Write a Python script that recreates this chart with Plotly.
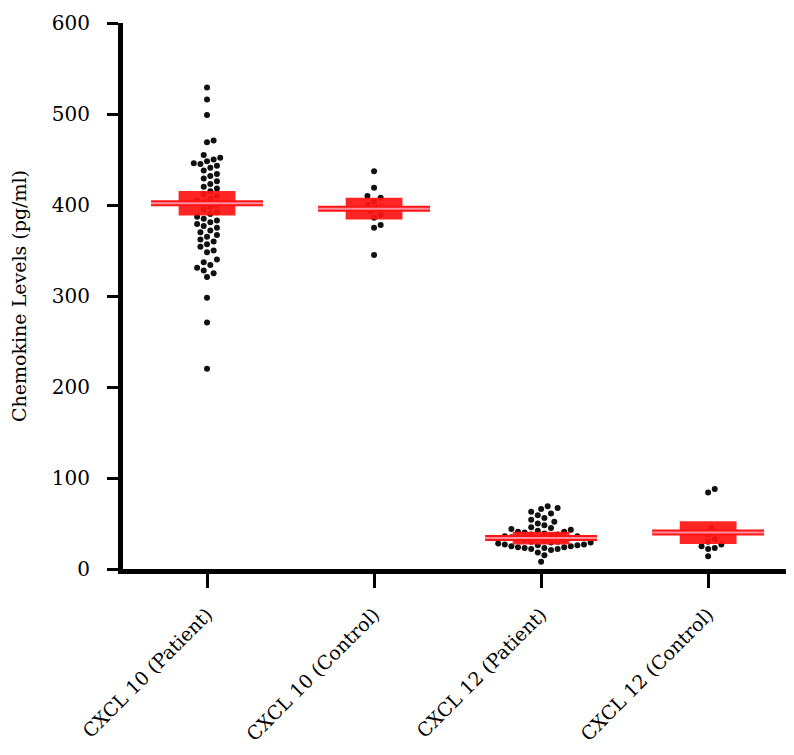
import plotly.graph_objects as go

# groups shown on the x axis
categories = ["CXCL 10 (Patient)", "CXCL 10 (Control)", "CXCL 12 (Patient)", "CXCL 12 (Control)"]

# individual chemokine levels (pg/ml)
cxcl10_patient = [529, 516, 499, 471, 469, 455, 452, 450, 448, 446, 445, 443, 441, 438, 434,
                  432, 429, 426, 423, 420, 418, 415, 412, 410, 407, 405, 403, 400, 398, 395,
                  392, 390, 387, 385, 383, 381, 379, 377, 375, 372, 370, 367, 365, 362, 360,
                  357, 354, 350, 348, 340, 337, 334, 331, 328, 325, 321, 298, 271, 220]
cxcl10_control = [437, 419, 410, 408, 404, 400, 397, 393, 389, 386, 378, 375, 345]
cxcl12_patient = [69, 67, 66, 63, 61, 59, 56, 54, 52, 50, 48, 46,
                  45, 44, 43, 42, 41, 41, 40, 39, 38, 38, 37, 36, 36, 35, 34, 34, 33, 32,
                  32, 31, 30, 30, 29, 29, 28, 27, 27, 26, 26, 25, 25, 24, 24, 23, 23,
                  22, 22, 21, 18, 15, 8]
cxcl12_control = [88, 84, 45, 38, 33, 30, 27, 25, 23, 22, 14]

# mean and SEM drawn in red
means = [402, 396, 34, 40]
sems = [13.5, 12, 7, 12.5]

groups = [cxcl10_patient, cxcl10_control, cxcl12_patient, cxcl12_control]

PX_PER_CAT = 167.0
PX_PER_UNIT = 546.0 / 600.0
DOT = 6.6


def swarm(values):
    # simple beeswarm: push each dot sideways until it does not overlap
    placed = []
    offs = [0.0] * len(values)
    order = sorted(range(len(values)), key=lambda i: values[i])
    step = DOT / 2.0
    for i in order:
        y = values[i] * PX_PER_UNIT
        k = 0
        while True:
            cands = [0.0] if k == 0 else [k * step, -k * step]
            ok = None
            for c in cands:
                if all((c - px) ** 2 + (y - py) ** 2 >= DOT ** 2 for px, py in placed):
                    ok = c
                    break
            if ok is not None:
                placed.append((ok, y))
                offs[i] = ok
                break
            k += 1
    return [o / PX_PER_CAT for o in offs]


fig = go.Figure()

for gi, vals in enumerate(groups):
    offs = swarm(vals)
    fig.add_trace(go.Scatter(
        x=[gi + o for o in offs], y=vals, mode="markers",
        marker=dict(color="#111111", size=6),
        showlegend=False, hoverinfo="y"))

shapes = []
for gi in range(len(categories)):
    m, s = means[gi], sems[gi]
    shapes.append(dict(type="rect", xref="x", yref="y", x0=gi - 0.17, x1=gi + 0.17,
                       y0=m - s, y1=m + s, fillcolor="#ff1414", line=dict(width=0),
                       opacity=0.93, layer="above"))
    shapes.append(dict(type="line", xref="x", yref="y", x0=gi - 0.335, x1=gi + 0.335,
                       y0=m, y1=m, line=dict(color="#ff1414", width=6), layer="above"))
    shapes.append(dict(type="line", xref="x", yref="y", x0=gi - 0.335, x1=gi + 0.335,
                       y0=m, y1=m, line=dict(color="#ff8da0", width=2), layer="above"))

fig.update_layout(
    width=794, height=755,
    margin=dict(l=115, r=7, t=15, b=194),
    plot_bgcolor="white", paper_bgcolor="white",
    font=dict(family="DejaVu Serif", size=20, color="black"),
    shapes=shapes,
    xaxis=dict(range=[-0.503, 3.52], tickvals=list(range(len(categories))), ticktext=categories,
               tickangle=-45, showline=True, linecolor="black", linewidth=5,
               ticks="outside", ticklen=14, tickwidth=3, tickcolor="black",
               tickfont=dict(size=19), ticklabelstandoff=8, automargin=False,
               showgrid=False, zeroline=False),
    yaxis=dict(range=[0, 600], tickvals=[0, 100, 200, 300, 400, 500, 600],
               showline=True, linecolor="black", linewidth=5,
               ticks="outside", ticklen=11, tickwidth=3, tickcolor="black",
               ticklabelstandoff=13, automargin=False,
               showgrid=False, zeroline=False,
               title=dict(text="Chemokine Levels (pg/ml)", font=dict(size=19), standoff=26)),
)

fig.write_html("out.html")
